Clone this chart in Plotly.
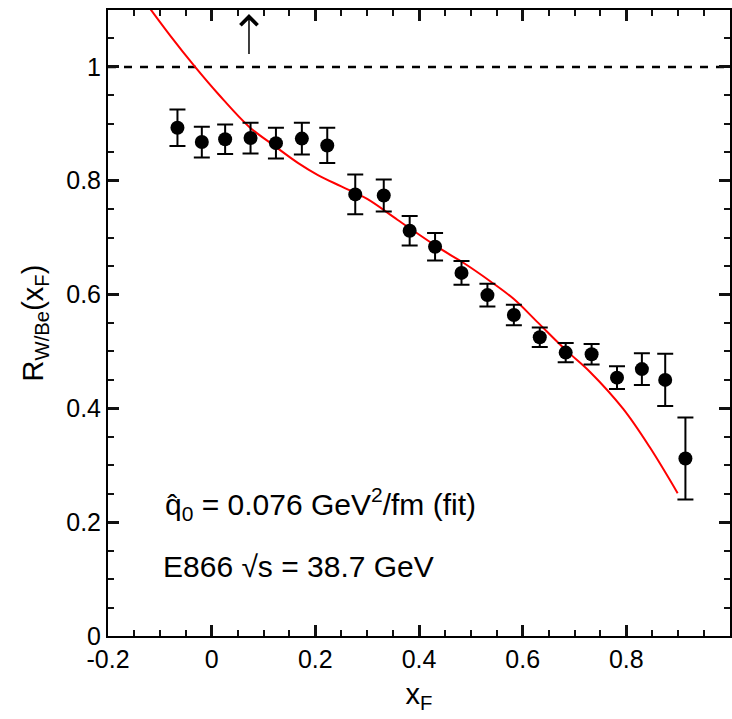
import plotly.graph_objects as go

# ---- data ----
xf_points = [-0.066, -0.019, 0.026, 0.075, 0.124, 0.174, 0.223, 0.277, 0.332, 0.382, 0.431,
             0.482, 0.532, 0.583, 0.633, 0.683, 0.733, 0.782, 0.830, 0.875, 0.914]
r_points = [0.893, 0.868, 0.873, 0.875, 0.866, 0.874, 0.862, 0.776, 0.774, 0.712, 0.684,
            0.638, 0.599, 0.564, 0.525, 0.498, 0.495, 0.454, 0.469, 0.450, 0.312]
r_errors = [0.032, 0.027, 0.026, 0.027, 0.027, 0.028, 0.031, 0.035, 0.028, 0.026, 0.024,
            0.021, 0.020, 0.018, 0.017, 0.017, 0.018, 0.020, 0.028, 0.046, 0.072]

curve_x = [-0.125, -0.08, -0.032, 0.014, 0.072, 0.123, 0.167, 0.205, 0.25, 0.30, 0.359,
           0.44, 0.487, 0.538, 0.583, 0.628, 0.685, 0.730, 0.794, 0.845, 0.899]
curve_y = [1.11, 1.055, 1.0, 0.951, 0.895, 0.860, 0.831, 0.810, 0.790, 0.768, 0.731,
           0.681, 0.655, 0.623, 0.592, 0.552, 0.501, 0.464, 0.399, 0.332, 0.251]

ref_x = [-0.2, 1.0]
ref_level = 1.0

arrow_x = 0.072
arrow_from = 1.02
arrow_to = 1.093

x_range = [-0.2, 1.0]
y_range = [0, 1.1]
x_tickvals = [-0.2, 0, 0.2, 0.4, 0.6, 0.8, 1.0]
x_ticktext = ["-0.2", "0", "0.2", "0.4", "0.6", "0.8", "1"]
y_tickvals = [0, 0.2, 0.4, 0.6, 0.8, 1.0]
y_ticktext = ["0", "0.2", "0.4", "0.6", "0.8", "1"]
minor_step = 0.05

FONT = "Liberation Sans, Arial, sans-serif"
INK = "#111111"

fig = go.Figure()

fig.add_trace(go.Scatter(
    x=ref_x, y=[ref_level] * len(ref_x), mode="lines",
    line=dict(color="black", width=2.5, dash="8px,8px"),
    hoverinfo="skip", showlegend=False))

fig.add_trace(go.Scatter(
    x=curve_x, y=curve_y, mode="lines",
    line=dict(color="#ff0000", width=2, shape="spline", smoothing=1.0),
    showlegend=False))

fig.add_trace(go.Scatter(
    x=xf_points, y=r_points, mode="markers",
    marker=dict(color="black", size=14),
    error_y=dict(type="data", array=r_errors, visible=True,
                 color="black", thickness=2, width=8),
    showlegend=False))

fig.add_annotation(x=arrow_x, y=arrow_to, ax=arrow_x, ay=arrow_from,
                   xref="x", yref="y", axref="x", ayref="y",
                   text="", showarrow=True, arrowhead=4, arrowsize=2.2,
                   arrowwidth=1.5, arrowcolor="black")

fig.add_annotation(x=-0.093, y=0.232, xref="x", yref="y", xanchor="left", yanchor="middle",
                   text="q\u0302<sub>0</sub> = 0.076 GeV<sup>2</sup>/fm (fit)",
                   showarrow=False, font=dict(family=FONT, size=30, color="black"))
fig.add_annotation(x=-0.098, y=0.123, xref="x", yref="y", xanchor="left", yanchor="middle",
                   text="E866 \u221as = 38.7 GeV",
                   showarrow=False, font=dict(family=FONT, size=30, color="black"))

axis_common = dict(
    showgrid=False, showline=True, linecolor="black", linewidth=2,
    mirror="ticks", ticks="inside", ticklen=11, tickwidth=2.5, tickcolor=INK,
    layer="above traces",
    tickfont=dict(family=FONT, size=25, color="black"),
    minor=dict(ticks="inside", dtick=minor_step, ticklen=6, tickwidth=2,
               tickcolor=INK, showgrid=False),
)

fig.update_xaxes(
    range=x_range, tickmode="array", tickvals=x_tickvals, ticktext=x_ticktext,
    title=dict(text="x<sub>F</sub>", font=dict(family=FONT, size=29, color="black"), standoff=12),
    **axis_common)
fig.update_yaxes(
    range=y_range, tickmode="array", tickvals=y_tickvals, ticktext=y_ticktext,
    title=dict(text="R<sub>W/Be</sub>(x<sub>F</sub>)", font=dict(family=FONT, size=29, color="black"),
               standoff=14),
    **axis_common)

fig.update_layout(
    width=732, height=719,
    margin=dict(l=108, r=0, t=10, b=83),
    paper_bgcolor="white", plot_bgcolor="white",
    showlegend=False,
    font=dict(family=FONT, color="black"),
)

fig.write_html("out.html")
